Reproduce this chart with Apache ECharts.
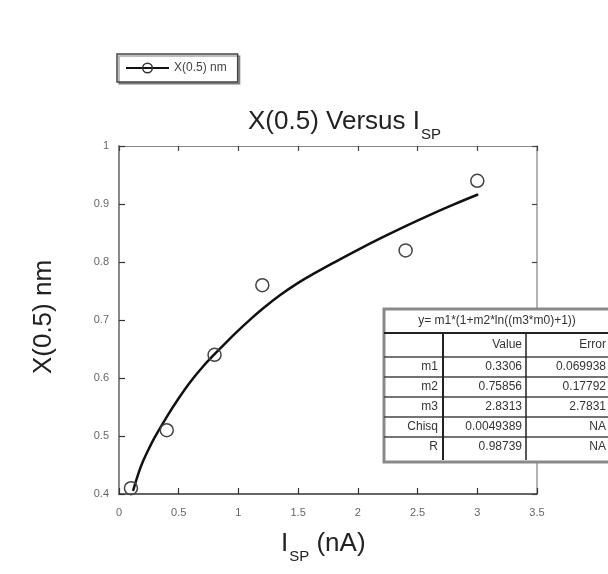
<!DOCTYPE html>
<html>
<head>
<meta charset="utf-8">
<script src="https://cdn.jsdelivr.net/npm/echarts@6/dist/echarts.min.js"></script>
<style>
  html, body { margin: 0; padding: 0; background: #fff; }
  #chart { width: 608px; height: 574px; }
</style>
</head>
<body>
<div id="chart"></div>
<script>
// Axis ticks
const xTicks = [0, 0.5, 1, 1.5, 2, 2.5, 3, 3.5];
const yTicks = [0.4, 0.5, 0.6, 0.7, 0.8, 0.9, 1];

// Measured points: setpoint current (nA) vs X(0.5) (nm)
const currentNA = [0.1, 0.4, 0.8, 1.2, 2.4, 3.0];
const x05 = [0.41, 0.51, 0.64, 0.76, 0.82, 0.94];

// Fitted curve, sampled along the current axis
const fitX = [0.12, 0.16, 0.2, 0.25, 0.3, 0.4, 0.5, 0.6, 0.7, 0.8, 0.9, 1.0, 1.1, 1.2, 1.35, 1.5, 1.65, 1.8, 2.0, 2.2, 2.4, 2.6, 2.8, 3.0];
const fitY = [0.407, 0.434, 0.456, 0.478, 0.498, 0.533, 0.565, 0.594, 0.619, 0.641, 0.662, 0.682, 0.701, 0.719, 0.743, 0.764, 0.782, 0.799, 0.821, 0.842, 0.862, 0.881, 0.899, 0.916];

// Fit parameter table
const fitFormula = 'y= m1*(1+m2*ln((m3*m0)+1))';
const tableColumns = ['', 'Value', 'Error'];
const paramNames = ['m1', 'm2', 'm3', 'Chisq', 'R'];
const paramValues = ['0.3306', '0.75856', '2.8313', '0.0049389', '0.98739'];
const paramErrors = ['0.069938', '0.17792', '2.7831', 'NA', 'NA'];

const FONT = '"Liberation Sans", Arial, sans-serif';

const chart = echarts.init(document.getElementById('chart'), null, { renderer: 'canvas' });

// Parameter table made of graphic elements
function buildTable() {
  const L = 384, T = 309, R = 614, B = 462;
  const c1 = 443, c2 = 526;
  const rowLines = [333, 357, 377, 397, 417, 437];
  const els = [];
  els.push({ type: 'rect', shape: { x: L + 1, y: T + 1, width: R - L, height: B - T },
    style: { fill: 'rgba(0,0,0,0.25)' }, z: 10 });
  els.push({ type: 'rect', shape: { x: L, y: T, width: R - L, height: B - T },
    style: { fill: '#fff', stroke: '#8a8a8a', lineWidth: 3 }, z: 11 });
  rowLines.forEach((y, i) => {
    els.push({ type: 'line', shape: { x1: L, y1: y, x2: R, y2: y },
      style: { stroke: i === 0 ? '#222' : '#444', lineWidth: i === 0 ? 2 : 1.5 }, z: 12 });
  });
  [c1, c2].forEach((x, i) => {
    els.push({ type: 'line', shape: { x1: x, y1: rowLines[0], x2: x, y2: B - 2 },
      style: { stroke: '#222', lineWidth: i === 0 ? 2 : 1.5 }, z: 12 });
  });
  const txt = (s, x, y, align) => ({
    type: 'text', x: x, y: y, z: 13,
    style: { text: s, font: '12px ' + FONT, fill: '#333', textAlign: align, textVerticalAlign: 'middle' }
  });
  els.push(txt(fitFormula, 497, 321, 'center'));
  els.push(txt(tableColumns[1], c2 - 4, 345, 'right'));
  els.push(txt(tableColumns[2], 606, 345, 'right'));
  const rowMid = [367, 387, 407, 427, 447];
  paramNames.forEach((n, i) => {
    els.push(txt(n, c1 - 5, rowMid[i], 'right'));
    els.push(txt(paramValues[i], c2 - 4, rowMid[i], 'right'));
    els.push(txt(paramErrors[i], 606, rowMid[i], 'right'));
  });
  return els;
}

const tickLabel = { color: '#666', fontSize: 11, fontFamily: FONT };
const richName = {
  a: { fontSize: 26, fontFamily: FONT, fontWeight: 'normal', color: '#222', lineHeight: 30, verticalAlign: 'top' },
  s: { fontSize: 15, fontFamily: FONT, fontWeight: 'normal', color: '#222', lineHeight: 15, verticalAlign: 'top', padding: [18, 0, 0, 1] }
};

const option = {
  backgroundColor: '#fff',
  animation: false,
  title: [
    {
      text: '{a|X(0.5) Versus I}{s|SP}',
      left: 243, top: 104,
      textStyle: { fontWeight: 'normal', rich: richName }
    },
    {
      text: '{a|I}{s|SP}{a| (nA)}',
      left: 276, top: 526,
      textStyle: { fontWeight: 'normal', rich: richName }
    }
  ],
  legend: {
    left: 117, top: 54,
    orient: 'horizontal',
    padding: [8, 11, 8, 8],
    itemWidth: 43, itemHeight: 12,
    borderColor: '#444', borderWidth: 1.5,
    shadowColor: 'rgba(0,0,0,0.35)', shadowOffsetX: 2, shadowOffsetY: 2,
    backgroundColor: '#fff',
    textStyle: { fontSize: 12, fontFamily: FONT, color: '#444' },
    data: [{
      name: 'X(0.5) nm',
      lineStyle: { color: '#111', width: 2, opacity: 1 },
      itemStyle: { color: 'rgba(0,0,0,0)', borderColor: '#333', borderWidth: 1.5 }
    }]
  },
  grid: { left: 119, right: 71, top: 146, bottom: 80 },
  xAxis: [
    {
      type: 'value', position: 'bottom',
      min: xTicks[0], max: xTicks[xTicks.length - 1], interval: xTicks[1] - xTicks[0],
      axisLine: { show: true, onZero: false, lineStyle: { color: '#333', width: 1.5 } },
      axisTick: { show: true, inside: true, length: 6, lineStyle: { color: '#333', width: 1.2 } },
      axisLabel: Object.assign({ margin: 13 }, tickLabel),
      splitLine: { show: false }
    },
    {
      type: 'value', position: 'top',
      min: xTicks[0], max: xTicks[xTicks.length - 1], interval: xTicks[1] - xTicks[0],
      axisLine: { show: true, onZero: false, lineStyle: { color: '#888', width: 1 } },
      axisTick: { show: true, inside: true, length: 5, lineStyle: { color: '#444', width: 1.2 } },
      axisLabel: { show: false },
      splitLine: { show: false }
    }
  ],
  yAxis: [
    {
      type: 'value', position: 'left',
      min: yTicks[0], max: yTicks[yTicks.length - 1], interval: 0.1,
      axisLine: { show: true, onZero: false, lineStyle: { color: '#888', width: 2 } },
      axisTick: { show: true, inside: true, length: 6, lineStyle: { color: '#333', width: 1.2 } },
      axisLabel: Object.assign({ margin: 10, formatter: v => String(+v.toFixed(1)) }, tickLabel),
      splitLine: { show: false }
    },
    {
      type: 'value', position: 'right',
      min: yTicks[0], max: yTicks[yTicks.length - 1], interval: 0.1,
      axisLine: { show: true, onZero: false, lineStyle: { color: '#999', width: 1.5 } },
      axisTick: { show: true, inside: true, length: 5, lineStyle: { color: '#444', width: 1.2 } },
      axisLabel: { show: false },
      splitLine: { show: false }
    }
  ],
  graphic: [
    {
      type: 'text', x: 44, y: 317, rotation: Math.PI / 2, z: 5,
      style: { text: 'X(0.5) nm', font: '26px ' + FONT, fill: '#222', textAlign: 'center', textVerticalAlign: 'middle' }
    },
    { type: 'group', children: buildTable() }
  ],
  series: [
    {
      name: 'fit',
      type: 'line',
      data: fitX.map((x, i) => [x, fitY[i]]),
      smooth: 0.4,
      showSymbol: false,
      lineStyle: { color: '#111', width: 2.5, join: 'round', cap: 'round' },
      silent: true,
      z: 2
    },
    {
      name: 'X(0.5) nm',
      type: 'line',
      data: currentNA.map((x, i) => [x, x05[i]]),
      symbol: 'circle',
      symbolSize: 13,
      lineStyle: { opacity: 0, width: 0 },
      itemStyle: { color: 'rgba(0,0,0,0)', borderColor: '#444', borderWidth: 1.5 },
      z: 3
    }
  ]
};

chart.setOption(option);
</script>
</body>
</html>
